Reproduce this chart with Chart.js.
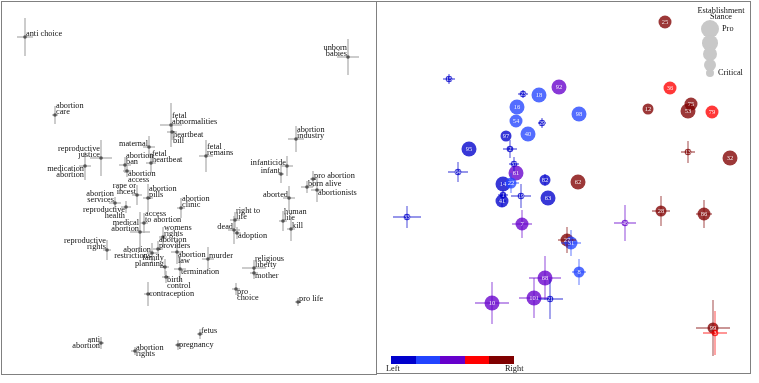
<!doctype HTML>
<html lang="en">
<head>
    <meta charset=utf-8>
    <title>Abortion terms and outlets</title>
    <style type="text/css">
        * {
            padding: 0;
            margin: 0;
        }

        body {
            width: 759px;
            height: 383px;
            position: relative;
            overflow: hidden;
            background: #fff;
            font-family: "Liberation Serif", "DejaVu Serif", serif;
            color: #111;
        }

        canvas, .panel, .note, .dot, .swatch {
            position: absolute;
        }

        #wordsChart { left: 1px; top: 1px; }
        #outletsChart { left: 377px; top: 1px; }

        .panel {
            border: 1px solid #808080;
            box-sizing: border-box;
        }
        #leftPanel { left: 1px; top: 1px; width: 376px; height: 374px; }
        #rightPanel { left: 376px; top: 1px; width: 375px; height: 373px; }

        .note {
            font-size: 8.3px;
            line-height: 6px;
            white-space: nowrap;
        }

        .dot {
            background: #c8c8c8;
            border-radius: 50%;
        }

        .swatch {
            top: 356px;
            height: 8px;
            width: 24.5px;
        }
    </style>
    <script src="https://cdn.jsdelivr.net/npm/chart.js"></script>
</head>
<body>
    <canvas id="wordsChart" width="375" height="373"></canvas>
    <canvas id="outletsChart" width="373" height="371"></canvas>

    <div class="panel" id="leftPanel"></div>
    <div class="panel" id="rightPanel"></div>

    <!-- establishment stance key -->
    <div class="note" style="left:690px; top:8px; width:62px; text-align:center;">Establishment<br>Stance</div>
    <div class="dot" style="left:700.7px; top:19.7px; width:18.6px; height:18.6px;"></div>
    <div class="dot" style="left:702.3px; top:35.3px; width:15.4px; height:15.4px;"></div>
    <div class="dot" style="left:703px; top:47px; width:14px; height:14px;"></div>
    <div class="dot" style="left:704px; top:59px; width:12px; height:12px;"></div>
    <div class="dot" style="left:705.7px; top:68.7px; width:8.6px; height:8.6px;"></div>
    <div class="note" style="left:722px; top:26px;">Pro</div>
    <div class="note" style="left:718px; top:70px;">Critical</div>

    <!-- lean colour bar -->
    <div id="leanBar"></div>
    <div class="note" style="left:386px; top:366px;">Left</div>
    <div class="note" style="left:505px; top:366px;">Right</div>

    <script type="text/javascript">
        // left panel: terms
        const words = [
            'anti choice', 'unborn\nbabies', 'abortion\ncare', 'fetal\nabnormalities', 'heartbeat\nbill',
            'reproductive\njustice', 'maternal', 'fetal\nheartbeat', 'fetal\nremains', 'abortion\nban',
            'medication\nabortion', 'abortion\naccess', 'infanticide', 'infant', 'abortion\nindustry',
            'pro abortion', 'born alive', 'abortionists', 'aborted', 'human\nlife',
            'kill', 'right to\nlife', 'dead', 'adoption', 'abortion\nclinic',
            'abortion\npills', 'rape or\nincest', 'abortion\nservices', 'reproductive\nhealth', 'access\nto abortion',
            'medical\nabortion', 'womens\nrights', 'abortion\nproviders', 'reproductive\nrights', 'abortion\nrestrictions',
            'abortion\nlaw', 'murder', 'family\nplanning', 'termination', 'birth\ncontrol',
            'contraception', 'religious\nliberty', 'mother', 'pro\nchoice', 'pro life',
            'fetus', 'anti\nabortion', 'abortion\nrights', 'pregnancy'
        ];
        const wordX = [
            -1.63, 1.60, -1.33, -0.17, -0.16, -0.87, -0.39, -0.37, 0.18, -0.63,
            -1.03, -0.61, 0.99, 0.93, 1.08, 1.25, 1.19, 1.29, 1.01, 0.95,
            1.03, 0.47, 0.46, 0.49, -0.07, -0.40, -0.51, -0.73, -0.62, -0.44,
            -0.48, -0.25, -0.30, -0.81, -0.36, -0.11, 0.20, -0.23, -0.08, -0.22,
            -0.40, 0.66, 0.66, 0.48, 1.10, 0.12, -0.87, -0.53, -0.10
        ];
        const wordY = [
            1.51, 1.31, 0.73, 0.63, 0.56, 0.30, 0.41, 0.25, 0.32, 0.23,
            0.22, 0.17, 0.22, 0.14, 0.49, 0.09, 0.01, -0.02, -0.10, -0.33,
            -0.41, -0.32, -0.42, -0.45, -0.20, -0.10, -0.07, -0.15, -0.19, -0.35,
            -0.44, -0.49, -0.61, -0.62, -0.65, -0.64, -0.71, -0.79, -0.81, -0.89,
            -1.06, -0.80, -0.85, -1.01, -1.14, -1.46, -1.55, -1.63, -1.57
        ];
        const wordErrX = [
            0.08, 0.11, 0.03, 0.11, 0.05, 0.11, 0.06, 0.05, 0.07, 0.06,
            0.06, 0.04, 0.06, 0.03, 0.08, 0.03, 0.06, 0.06, 0.06, 0.04,
            0.04, 0.05, 0.06, 0.04, 0.04, 0.05, 0.05, 0.06, 0.05, 0.04,
            0.10, 0.04, 0.05, 0.04, 0.05, 0.06, 0.06, 0.04, 0.06, 0.04,
            0.04, 0.12, 0.04, 0.04, 0.03, 0.03, 0.03, 0.04, 0.03
        ];
        const wordErrY = [
            0.19, 0.18, 0.09, 0.22, 0.08, 0.18, 0.11, 0.10, 0.16, 0.08,
            0.14, 0.06, 0.10, 0.09, 0.13, 0.08, 0.06, 0.12, 0.12, 0.10,
            0.12, 0.08, 0.14, 0.06, 0.10, 0.14, 0.10, 0.06, 0.06, 0.10,
            0.20, 0.10, 0.08, 0.10, 0.10, 0.12, 0.12, 0.08, 0.12, 0.06,
            0.12, 0.08, 0.06, 0.06, 0.04, 0.05, 0.06, 0.04, 0.05
        ];
        // where each label sits relative to its point
        const wordAnchor = [
            'ur', 'ul', 'ur', 'ur', 'lr', 'ul', 'ul', 'ur', 'ur', 'ur',
            'll', 'lr', 'ul', 'ul', 'ur', 'ur', 'ur', 'lr', 'ul', 'ur',
            'ur', 'ur', 'ul', 'lr', 'ur', 'ur', 'ul', 'ul', 'll', 'ur',
            'ul', 'ur', 'ur', 'ul', 'l', 'lr', 'ur', 'ul', 'lr', 'lr',
            'r', 'ur', 'lr', 'lr', 'ur', 'ur', 'l', 'r', 'r'
        ];

        // right panel: outlets
        const outletIds = [
            '25', '15', '92', '23', '18', '16', '54', '29', '98', '40',
            '97', '95', '2', '37', '64', '61', '82', '62', '14', '22',
            '36', '12', '75', '53', '79', '13', '32', '1', '19', '41',
            '63', '33', '7', '46', '28', '86', '27', '31', '8', '68',
            '101', '21', '10', '99', '3'
        ];
        const outletX = [
            1.02, -1.14, -0.04, -0.40, -0.24, -0.46, -0.47, -0.21, 0.16, -0.35,
            -0.57, -0.94, -0.53, -0.49, -1.05, -0.47, -0.18, 0.15, -0.60, -0.52,
            1.07, 0.85, 1.28, 1.25, 1.49, 1.25, 1.67, -0.60, -0.42, -0.61,
            -0.15, -1.56, -0.41, 0.62, 0.98, 1.41, 0.04, 0.08, 0.16, -0.18,
            -0.29, -0.13, -0.71, 1.50, 1.52
        ];
        const outletY = [
            1.65, 1.08, 1.00, 0.93, 0.92, 0.80, 0.66, 0.64, 0.73, 0.53,
            0.51, 0.38, 0.38, 0.23, 0.15, 0.14, 0.07, 0.05, 0.03, 0.04,
            0.99, 0.78, 0.83, 0.76, 0.75, 0.35, 0.29, -0.08, -0.09, -0.14,
            -0.11, -0.30, -0.37, -0.36, -0.24, -0.27, -0.53, -0.56, -0.85, -0.91,
            -1.11, -1.12, -1.16, -1.41, -1.46
        ];
        const outletErrX = [
            0.02, 0.06, 0.01, 0.05, 0.01, 0.01, 0.01, 0.04, 0.01, 0.01,
            0.01, 0.01, 0.07, 0.05, 0.10, 0.01, 0.02, 0.01, 0.02, 0.08,
            0.01, 0.01, 0.01, 0.01, 0.01, 0.07, 0.01, 0.05, 0.10, 0.04,
            0.01, 0.14, 0.10, 0.11, 0.09, 0.08, 0.09, 0.10, 0.07, 0.16,
            0.15, 0.13, 0.17, 0.17, 0.12
        ];
        const outletErrY = [
            0.02, 0.05, 0.01, 0.04, 0.01, 0.01, 0.01, 0.05, 0.01, 0.01,
            0.01, 0.01, 0.09, 0.07, 0.10, 0.01, 0.06, 0.01, 0.02, 0.10,
            0.01, 0.01, 0.01, 0.01, 0.01, 0.11, 0.01, 0.05, 0.12, 0.06,
            0.01, 0.11, 0.14, 0.18, 0.15, 0.14, 0.13, 0.13, 0.13, 0.22,
            0.20, 0.20, 0.21, 0.28, 0.22
        ];
        // 0 = left ... 4 = right
        const outletLean = [
            4, 0, 2, 0, 1, 1, 1, 0, 1, 1,
            0, 0, 0, 0, 0, 2, 0, 4, 0, 1,
            3, 4, 4, 4, 3, 4, 4, 0, 0, 0,
            0, 0, 2, 2, 4, 4, 4, 1, 1, 2,
            2, 0, 2, 4, 3
        ];
        // 1 = critical ... 5 = pro
        const outletStance = [
            4, 1, 5, 1, 5, 5, 4, 1, 5, 5,
            3, 5, 1, 1, 1, 5, 3, 5, 5, 3,
            4, 3, 4, 5, 4, 1, 5, 1, 1, 4,
            5, 1, 4, 1, 3, 4, 4, 4, 3, 5,
            5, 1, 5, 3, 1
        ];

        const leanColors = ['#0000CC', '#2244FF', '#6600CC', '#FF0000', '#800000'];
        const stanceRadius = [0, 3.3, 4.5, 5.5, 6.5, 7.5];

        function rgba(hex, a) {
            const n = parseInt(hex.slice(1), 16);
            return `rgba(${n >> 16}, ${(n >> 8) & 255}, ${n & 255}, ${a})`;
        }

        // colour bar under the outlets
        const bar = document.getElementById('leanBar');
        leanColors.forEach((c, i) => {
            const d = document.createElement('div');
            d.className = 'swatch';
            d.style.left = (391 + i * 24.5) + 'px';
            d.style.background = c;
            bar.appendChild(d);
        });

        function drawCross(ctx, xs, ys, p, e) {
            const px = xs.getPixelForValue(p.x), py = ys.getPixelForValue(p.y);
            ctx.beginPath();
            ctx.moveTo(xs.getPixelForValue(p.x - e.dx), py);
            ctx.lineTo(xs.getPixelForValue(p.x + e.dx), py);
            ctx.moveTo(px, ys.getPixelForValue(p.y - e.dy));
            ctx.lineTo(px, ys.getPixelForValue(p.y + e.dy));
            ctx.stroke();
        }

        const wordBars = {
            id: 'wordBars',
            beforeDatasetsDraw(chart) {
                const ctx = chart.ctx, xs = chart.scales.x, ys = chart.scales.y;
                ctx.save();
                ctx.strokeStyle = 'rgba(170, 170, 170, 0.8)';
                ctx.lineWidth = 1.5;
                words.forEach((w, i) => {
                    drawCross(ctx, xs, ys, { x: wordX[i], y: wordY[i] }, { dx: wordErrX[i], dy: wordErrY[i] });
                });
                ctx.restore();
            },
            afterDatasetsDraw(chart) {
                const ctx = chart.ctx, xs = chart.scales.x, ys = chart.scales.y;
                ctx.save();
                ctx.font = '8.3px "Liberation Serif"';
                ctx.fillStyle = '#111';
                ctx.textBaseline = 'middle';
                const lh = 6;
                words.forEach((w, i) => {
                    const lines = w.split('\n');
                    const px = xs.getPixelForValue(wordX[i]), py = ys.getPixelForValue(wordY[i]);
                    const a = wordAnchor[i];
                    let x, y0;
                    if (a === 'ur' || a === 'ul') {
                        y0 = py - 3.5 - (lines.length - 1) * lh;
                    } else if (a === 'lr' || a === 'll') {
                        y0 = py + 3;
                    } else {
                        y0 = py - (lines.length - 1) * lh / 2;
                    }
                    if (a === 'ur' || a === 'lr' || a === 'r') {
                        ctx.textAlign = 'left';
                        x = px + 1;
                    } else {
                        ctx.textAlign = 'right';
                        x = px - 1;
                    }
                    lines.forEach((ln, k) => ctx.fillText(ln, x, y0 + k * lh));
                });
                ctx.restore();
            }
        };

        const outletMarks = {
            id: 'outletMarks',
            afterDatasetsDraw(chart) {
                const ctx = chart.ctx, xs = chart.scales.x, ys = chart.scales.y;
                ctx.save();
                ctx.lineWidth = 1.3;
                outletIds.forEach((id, i) => {
                    ctx.strokeStyle = rgba(leanColors[outletLean[i]], 0.55);
                    drawCross(ctx, xs, ys, { x: outletX[i], y: outletY[i] }, { dx: outletErrX[i], dy: outletErrY[i] });
                });
                ctx.fillStyle = 'rgba(255, 255, 255, 0.9)';
                ctx.textAlign = 'center';
                ctx.textBaseline = 'middle';
                outletIds.forEach((id, i) => {
                    ctx.font = (outletStance[i] === 1 ? 5.5 : 6.5) + 'px "Liberation Serif"';
                    ctx.fillText(id, xs.getPixelForValue(outletX[i]), ys.getPixelForValue(outletY[i]) + 0.5);
                });
                ctx.restore();
            }
        };

        const hidden = { type: 'linear', display: false };
        const baseOptions = {
            responsive: false,
            devicePixelRatio: 1,
            animation: false,
            events: [],
            layout: { padding: 0, autoPadding: false },
            plugins: { legend: { display: false }, tooltip: { enabled: false } }
        };

        new Chart(document.getElementById('wordsChart'), {
            type: 'scatter',
            data: {
                datasets: [{
                    data: words.map((w, i) => ({ x: wordX[i], y: wordY[i] })),
                    backgroundColor: '#555',
                    borderWidth: 0,
                    pointRadius: 1.8,
                    clip: false
                }]
            },
            options: {
                ...baseOptions,
                scales: {
                    x: { ...hidden, min: -1.87, max: 1.88 },
                    y: { ...hidden, min: -1.86, max: 1.87 }
                }
            },
            plugins: [wordBars]
        });

        new Chart(document.getElementById('outletsChart'), {
            type: 'scatter',
            data: {
                datasets: [{
                    data: outletIds.map((id, i) => ({ x: outletX[i], y: outletY[i] })),
                    backgroundColor: outletLean.map(l => rgba(leanColors[l], 0.78)),
                    borderWidth: 0,
                    pointRadius: outletStance.map(s => stanceRadius[s]),
                    clip: false
                }]
            },
            options: {
                ...baseOptions,
                scales: {
                    x: { ...hidden, min: -1.86, max: 1.87 },
                    y: { ...hidden, min: -1.85, max: 1.86 }
                }
            },
            plugins: [outletMarks]
        });
    </script>
</body>
</html>
